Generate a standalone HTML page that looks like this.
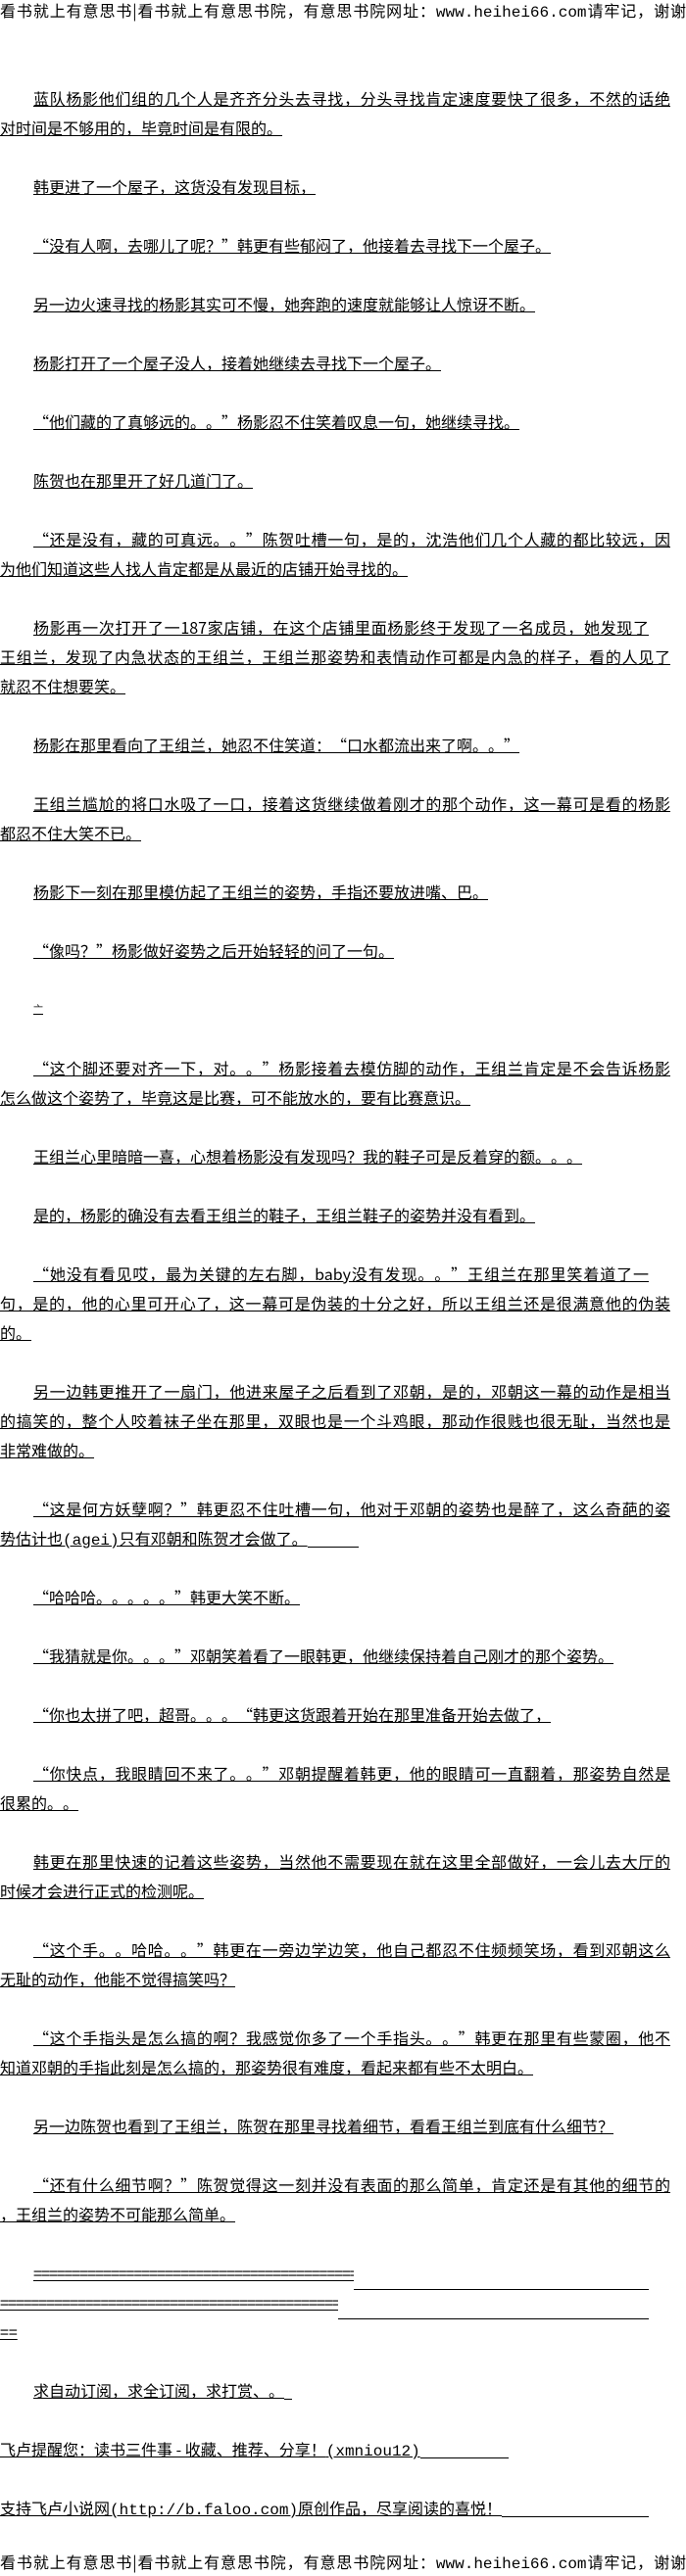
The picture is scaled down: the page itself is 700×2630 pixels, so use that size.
<!DOCTYPE html>
<html><head><meta charset="utf-8">
<style>
html,body{margin:0;padding:0;background:#fff;}
body{width:700px;height:2630px;position:relative;overflow:hidden;font-family:"Noto Sans CJK SC","WenQuanYi Zen Hei","Liberation Sans",sans-serif;font-size:16px;color:#000;text-spacing-trim:space-all;}
.l{position:absolute;left:0;height:30px;line-height:30px;white-space:nowrap;text-decoration:underline;}
.i{left:34px;}
.j{white-space:normal;text-align:justify;text-align-last:justify;width:684px;}
.i.j{width:650px;}
.j2{white-space:normal;text-align:justify;text-align-last:justify;width:628px;}
.u{display:inline-block;height:1px;background:#000;vertical-align:-3px;}
.hd{position:absolute;left:0;width:700px;height:20px;line-height:20px;text-align:justify;text-align-last:justify;font-size:16px;white-space:normal;}
.m{font-family:"Liberation Mono",monospace;}
</style></head><body>
<div class="hd" style="top:0">看书就上有意思书|看书就上有意思书院，有意思书院网址：<span class="m">www.heihei66.com</span>请牢记，谢谢</div>

<div class="l i j" style="top:85px">蓝队杨影他们组的几个人是齐齐分头去寻找，分头寻找肯定速度要快了很多，不然的话绝</div>
<div class="l" style="top:115px">对时间是不够用的，毕竟时间是有限的。</div>
<div class="l i" style="top:175px">韩更进了一个屋子，这货没有发现目标，</div>
<div class="l i" style="top:235px">“没有人啊，去哪儿了呢？”韩更有些郁闷了，他接着去寻找下一个屋子。</div>
<div class="l i" style="top:295px">另一边火速寻找的杨影其实可不慢，她奔跑的速度就能够让人惊讶不断。</div>
<div class="l i" style="top:355px">杨影打开了一个屋子没人，接着她继续去寻找下一个屋子。</div>
<div class="l i" style="top:415px">“他们藏的了真够远的。。”杨影忍不住笑着叹息一句，她继续寻找。</div>
<div class="l i" style="top:475px">陈贺也在那里开了好几道门了。</div>
<div class="l i j" style="top:535px">“还是没有，藏的可真远。。”陈贺吐槽一句，是的，沈浩他们几个人藏的都比较远，因</div>
<div class="l" style="top:565px">为他们知道这些人找人肯定都是从最近的店铺开始寻找的。</div>
<div class="l i j2" style="top:625px">杨影再一次打开了一187家店铺，在这个店铺里面杨影终于发现了一名成员，她发现了</div>
<div class="l j" style="top:655px">王组兰，发现了内急状态的王组兰，王组兰那姿势和表情动作可都是内急的样子，看的人见了</div>
<div class="l" style="top:685px">就忍不住想要笑。</div>
<div class="l i" style="top:745px">杨影在那里看向了王组兰，她忍不住笑道：“口水都流出来了啊。。”</div>
<div class="l i j" style="top:805px">王组兰尴尬的将口水吸了一口，接着这货继续做着刚才的那个动作，这一幕可是看的杨影</div>
<div class="l" style="top:835px">都忍不住大笑不已。</div>
<div class="l i" style="top:895px">杨影下一刻在那里模仿起了王组兰的姿势，手指还要放进嘴、巴。</div>
<div class="l i" style="top:955px">“像吗？”杨影做好姿势之后开始轻轻的问了一句。</div>
<div class="l i" style="top:1015px;font-size:10px">亠</div>
<div class="l i j" style="top:1075px">“这个脚还要对齐一下，对。。”杨影接着去模仿脚的动作，王组兰肯定是不会告诉杨影</div>
<div class="l" style="top:1105px">怎么做这个姿势了，毕竟这是比赛，可不能放水的，要有比赛意识。</div>
<div class="l i" style="top:1165px">王组兰心里暗暗一喜，心想着杨影没有发现吗？我的鞋子可是反着穿的额。。。</div>
<div class="l i" style="top:1225px">是的，杨影的确没有去看王组兰的鞋子，王组兰鞋子的姿势并没有看到。</div>
<div class="l i j2" style="top:1285px">“她没有看见哎，最为关键的左右脚，baby没有发现。。”王组兰在那里笑着道了一</div>
<div class="l j" style="top:1315px">句，是的，他的心里可开心了，这一幕可是伪装的十分之好，所以王组兰还是很满意他的伪装</div>
<div class="l" style="top:1345px">的。</div>
<div class="l i j" style="top:1405px">另一边韩更推开了一扇门，他进来屋子之后看到了邓朝，是的，邓朝这一幕的动作是相当</div>
<div class="l j" style="top:1435px">的搞笑的，整个人咬着袜子坐在那里，双眼也是一个斗鸡眼，那动作很贱也很无耻，当然也是</div>
<div class="l" style="top:1465px">非常难做的。</div>
<div class="l i j" style="top:1525px">“这是何方妖孽啊？”韩更忍不住吐槽一句，他对于邓朝的姿势也是醉了，这么奇葩的姿</div>
<div class="l" style="top:1555px">势估计也<span class="m">(agei)</span>只有邓朝和陈贺才会做了。<span class="u" style="width:52px"></span></div>
<div class="l i" style="top:1615px">“哈哈哈。。。。。”韩更大笑不断。</div>
<div class="l i" style="top:1675px">“我猜就是你。。。”邓朝笑着看了一眼韩更，他继续保持着自己刚才的那个姿势。</div>
<div class="l i" style="top:1735px">“你也太拼了吧，超哥。。。“韩更这货跟着开始在那里准备开始去做了，</div>
<div class="l i j" style="top:1795px">“你快点，我眼睛回不来了。。”邓朝提醒着韩更，他的眼睛可一直翻着，那姿势自然是</div>
<div class="l" style="top:1825px">很累的。。</div>
<div class="l i j" style="top:1885px">韩更在那里快速的记着这些姿势，当然他不需要现在就在这里全部做好，一会儿去大厅的</div>
<div class="l" style="top:1915px">时候才会进行正式的检测呢。</div>
<div class="l i j" style="top:1975px">“这个手。。哈哈。。”韩更在一旁边学边笑，他自己都忍不住频频笑场，看到邓朝这么</div>
<div class="l" style="top:2005px">无耻的动作，他能不觉得搞笑吗？</div>
<div class="l i j" style="top:2065px">“这个手指头是怎么搞的啊？我感觉你多了一个手指头。。”韩更在那里有些蒙圈，他不</div>
<div class="l" style="top:2095px">知道邓朝的手指此刻是怎么搞的，那姿势很有难度，看起来都有些不太明白。</div>
<div class="l i" style="top:2155px">另一边陈贺也看到了王组兰，陈贺在那里寻找着细节，看看王组兰到底有什么细节？</div>
<div class="l i j" style="top:2215px">“还有什么细节啊？”陈贺觉得这一刻并没有表面的那么简单，肯定还是有其他的细节的</div>
<div class="l" style="top:2245px">，王组兰的姿势不可能那么简单。</div>
<div class="l i" style="top:2305px;text-decoration:none"><span style="display:inline-block;width:327px;overflow:hidden;text-decoration:underline;letter-spacing:-1px">==========================================</span><span class="u" style="width:301px"></span></div>
<div class="l" style="top:2335px;text-decoration:none"><span style="display:inline-block;width:345px;overflow:hidden;text-decoration:underline;letter-spacing:-1px">============================================</span><span class="u" style="width:317px"></span></div>
<div class="l" style="top:2365px">==</div>
<div class="l i" style="top:2425px">求自动订阅，求全订阅，求打赏、。<span class="u" style="width:8px"></span></div>
<div class="l" style="top:2485px">飞卢提醒您：读书三件事 - 收藏、推荐、分享！<span class="m">(xmniou12)</span><span class="u" style="width:90px"></span></div>
<div class="l" style="top:2545px">支持飞卢小说网<span class="m">(http://b.faloo.com)</span>原创作品，尽享阅读的喜悦！<span class="u" style="width:150px"></span></div>
<div class="hd" style="top:2605px">看书就上有意思书|看书就上有意思书院，有意思书院网址：<span class="m">www.heihei66.com</span>请牢记，谢谢</div>
</body></html>
